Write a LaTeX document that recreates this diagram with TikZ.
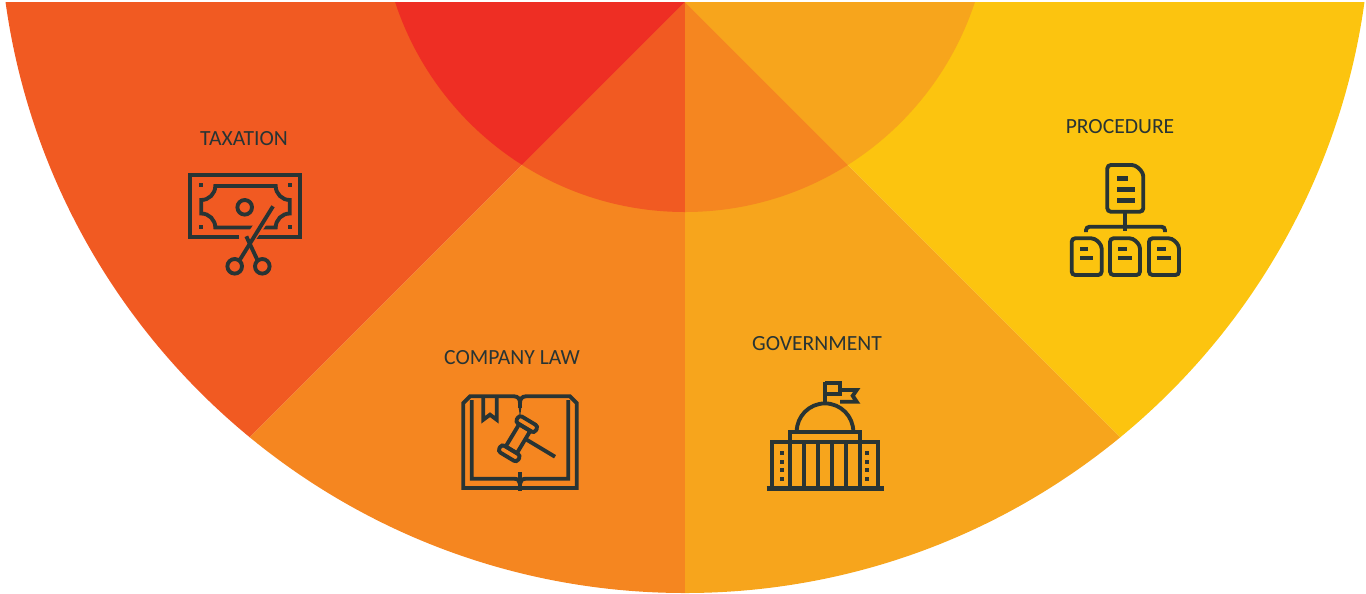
\documentclass[tikz,border=0pt]{standalone}
\usepackage{fontspec}
\newfontfamily\labelfont{Carlito}
\definecolor{segred}{HTML}{EE2E24}
\definecolor{segorangered}{HTML}{F15A22}
\definecolor{segorange}{HTML}{F58620}
\definecolor{segamber}{HTML}{F7A51C}
\definecolor{segyellow}{HTML}{FCC40F}
\definecolor{icongray}{HTML}{283434}

\begin{document}
\begin{tikzpicture}[x=0.02cm,y=-0.02cm,
  icon/.style={draw=icongray,line width=2.2pt},
  iconfill/.style={fill=icongray},
  sectorlabel/.style={font=\labelfont\fontsize{12.3}{14}\selectfont,text=icongray,inner sep=0pt}]

\def\cx{685}
\def\cy{-93}
\def\apexy{2}
\def\outerradius{686}
\def\innerradius{305}

\useasboundingbox (0,0) rectangle (1366,593);

% sectors
\begin{scope}
\clip (0,\apexy) rectangle (1366,593);
\clip (\cx,\cy) circle[radius=\outerradius];
\fill[segorangered] (\cx,\apexy) -- ({\cx-1000},{\apexy+1000}) -- ({\cx-1000},\apexy) -- cycle;
\fill[segorange] (\cx,\apexy) -- ({\cx-1000},{\apexy+1000}) -- (\cx,{\apexy+1000}) -- cycle;
\fill[segamber] (\cx,\apexy) -- (\cx,{\apexy+1000}) -- ({\cx+1000},{\apexy+1000}) -- cycle;
\fill[segyellow] (\cx,\apexy) -- ({\cx+1000},{\apexy+1000}) -- ({\cx+1000},\apexy) -- cycle;
% inner ring, colours shifted by one
\clip (\cx,\cy) circle[radius=\innerradius];
\fill[segred] (\cx,\apexy) -- ({\cx-1000},{\apexy+1000}) -- ({\cx-1000},\apexy) -- cycle;
\fill[segorangered] (\cx,\apexy) -- ({\cx-1000},{\apexy+1000}) -- (\cx,{\apexy+1000}) -- cycle;
\fill[segorange] (\cx,\apexy) -- (\cx,{\apexy+1000}) -- ({\cx+1000},{\apexy+1000}) -- cycle;
\fill[segamber] (\cx,\apexy) -- ({\cx+1000},{\apexy+1000}) -- ({\cx+1000},\apexy) -- cycle;
\end{scope}

% labels
\node[sectorlabel] (taxation) at (244,139) {TAXATION};
\node[sectorlabel] (companylaw) at (512,358) {COMPANY LAW};
\node[sectorlabel] (government) at (817,344) {GOVERNMENT};
\node[sectorlabel] (procedure) at (1120,127) {PROCEDURE};

% taxation: banknote and scissors
\draw[icon] (239,237.3) -- (190.3,237.3) -- (190.3,175.3) -- (300.3,175.3) -- (300.3,237.3) -- (256,237.3);
\draw[icon] (215.3,186) -- (275.7,186) arc[start angle=180,end angle=90,radius=14] -- (289.7,213.5) arc[start angle=270,end angle=180,radius=14] -- (215.3,227.5) arc[start angle=0,end angle=-90,radius=14] -- (201.3,200) arc[start angle=90,end angle=0,radius=14] -- cycle;
\foreach \dx/\dy in {201.3/185.3,289.7/185.3,201.3/227.3,289.7/227.3}
  \fill[iconfill] ({\dx-2},{\dy-2}) rectangle ({\dx+2},{\dy+2});
\draw[icon] (244.7,207.3) circle[radius=7.3];
\draw[segorangered,line width=6pt] (273,206.3) -- (242,250);
\draw[icon] (273,206.3) -- (239.3,260.7);
\draw[icon] (246.3,236.3) -- (257.7,260.7);
\draw[icon] (234.7,266.3) circle[radius=7.3];
\draw[icon] (262.3,266.3) circle[radius=7.3];

% company law: book and gavel
\draw[icon] (470,396.3) -- (514,396.3) .. controls (518,396.3) and (520,399) .. (520,403) .. controls (520,399) and (522,396.3) .. (526,396.3) -- (570,396.3) -- (576.7,403) -- (576.7,488) -- (463.3,488) -- (463.3,403) -- cycle;
\draw[icon] (471.7,400) -- (471.7,478.7) -- (514,478.7) .. controls (518,478.7) and (520,481) .. (520,484) .. controls (520,481) and (522,478.7) .. (526,478.7) -- (568.3,478.7) -- (568.3,400);
\draw[icon] (520,403) -- (520,408);
\draw[icon] (520,472) -- (520,491);
\draw[icon] (483.3,396.3) -- (483.3,419.7) -- (490,414.7) -- (496.7,419.7) -- (496.7,396.3);
\begin{scope}[shift={(518,438.7)},rotate=59]
\draw[icon] (-13,-6.5) -- (13,-6.5) -- (13,6.5) -- (-13,6.5) -- cycle;
\draw[icon,rounded corners=1.8pt] (13,-11) -- (21,-11) -- (21,11) -- (13,11) -- cycle;
\draw[icon,rounded corners=1.8pt] (-21,-11) -- (-13,-11) -- (-13,11) -- (-21,11) -- cycle;
\draw[icon] (3.6,6.5) -- (3.6,41);
\end{scope}

% government: capitol
\draw[icon] (825,403.3) -- (825,381.7);
\draw[icon] (825,382.7) -- (840,382.7) -- (840,394) -- (825,394);
\draw[icon] (840,390) -- (856.7,390) -- (852.7,395.8) -- (856.7,401.7) -- (840,401.7);
\draw[icon] (796.7,431.7) arc[start angle=180,end angle=360,radius=28.3];
\draw[icon] (790,441.7) -- (790,431.7) -- (860,431.7) -- (860,441.7);
\draw[icon] (771.7,486.7) -- (771.7,441.7) -- (878.3,441.7) -- (878.3,486.7);
\draw[icon,line width=2.6pt] (766.7,488.3) -- (884,488.3);
\foreach \colx in {790,804,818,832,846,860}
  \draw[icon] (\colx,441.7) -- (\colx,487);
\foreach \winy in {453.3,461.7,470,479}
{
  \fill[iconfill] (779.7,{\winy-2}) rectangle (783.7,{\winy+2});
  \fill[iconfill] (865.3,{\winy-2}) rectangle (869.3,{\winy+2});
}

% procedure: document tree
\draw[icon,rounded corners=2pt] (1107.3,165) -- (1135.3,165) -- (1143.3,173) -- (1143.3,211.7) -- (1107.3,211.7) -- cycle;
\fill[iconfill] (1116.7,176) rectangle (1128.3,180.7);
\fill[iconfill] (1116.7,187.3) rectangle (1135,191.7);
\fill[iconfill] (1116.7,198.3) rectangle (1135,202.7);
\draw[icon] (1125,211.7) -- (1125,231);
\draw[icon,rounded corners=2pt] (1086,232) -- (1086,226.7) -- (1165,226.7) -- (1165,232);
\foreach \docx in {1071.7,1110,1149}
{
  \draw[icon,rounded corners=2pt] (\docx,238.3) -- ({\docx+23},238.3) -- ({\docx+30},245.3) -- ({\docx+30},275) -- (\docx,275) -- cycle;
  \fill[iconfill] ({\docx+8.3},246.7) rectangle ({\docx+16.7},251.3);
  \fill[iconfill] ({\docx+8.3},256) rectangle ({\docx+21.7},260.3);
}

\end{tikzpicture}
\end{document}
